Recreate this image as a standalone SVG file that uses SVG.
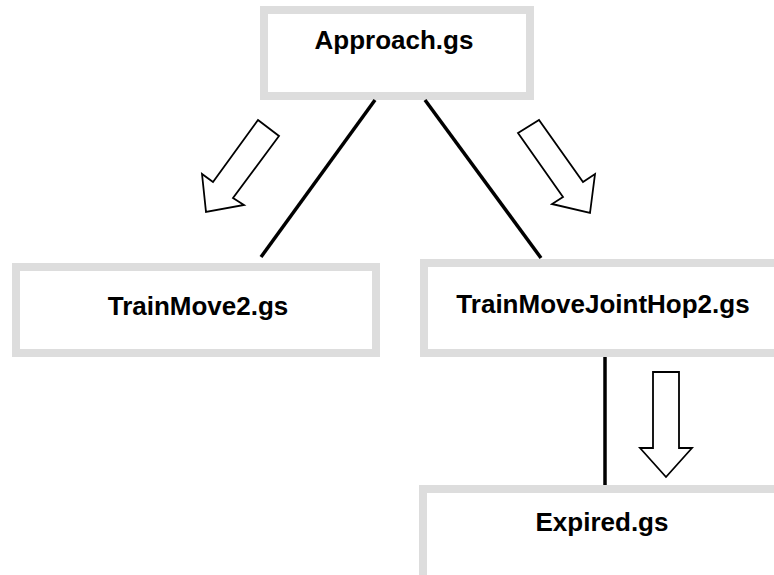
<svg xmlns="http://www.w3.org/2000/svg" width="774" height="575" viewBox="0 0 774 575">
<style>
.box{fill:#fff;stroke:#dddddd;stroke-width:8}
.lbl{font-family:"Liberation Sans",Arial,sans-serif;font-weight:bold;font-size:26px;fill:#000;text-anchor:middle}
.line{stroke:#000;stroke-width:3.5;fill:none}
.arrow{fill:#fff;stroke:#000;stroke-width:1.8;stroke-linejoin:miter}
</style>
<rect width="774" height="575" fill="#fff"/>
<g id="approach">
<rect class="box" x="264" y="10" width="266" height="86"/>
<text class="lbl" x="394" y="49">Approach.gs</text>
</g>
<g id="trainmove2">
<rect class="box" x="16" y="267" width="360" height="86"/>
<text class="lbl" x="198" y="315">TrainMove2.gs</text>
</g>
<g id="trainmovejointhop2">
<rect class="box" x="424" y="263" width="360" height="90"/>
<text class="lbl" x="603" y="313">TrainMoveJointHop2.gs</text>
</g>
<g id="expired">
<rect class="box" x="423" y="489" width="360" height="90"/>
<text class="lbl" x="602" y="531">Expired.gs</text>
</g>
<g id="connectors">
<line class="line" x1="375" y1="100" x2="261" y2="257"/>
<line class="line" x1="425" y1="100" x2="541" y2="258"/>
<line class="line" x1="605" y1="357" x2="605" y2="485"/>
<polygon class="arrow" points="258,120 279,136 233,198 244,205 206,212 202,174 213,182"/>
<polygon class="arrow" points="518,133 539,120 583,182 595,174 590,213 552,204 563,197"/>
<polygon class="arrow" points="653,372 679,372 679,448 692,448 666,477 640,448 653,448"/>
</g>
</svg>
